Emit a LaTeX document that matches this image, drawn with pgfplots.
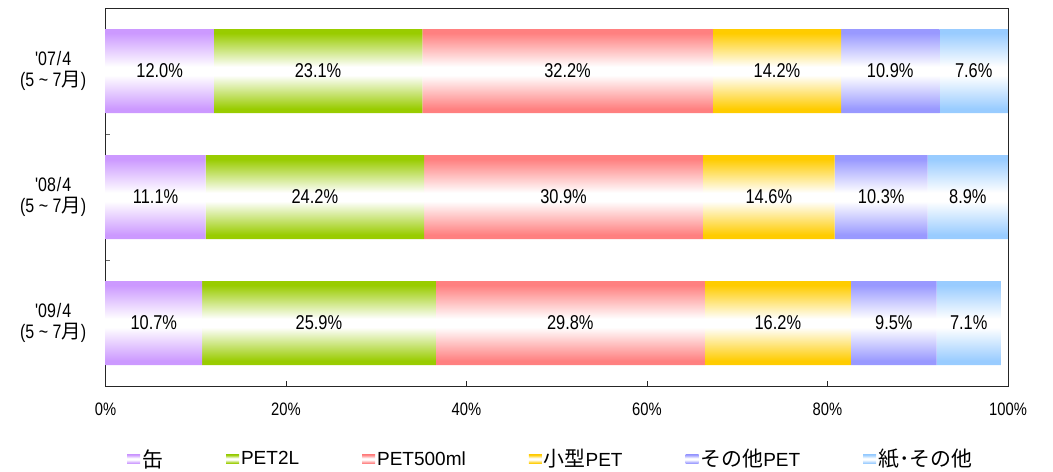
\documentclass[border=0pt]{standalone}
\usepackage{pgfplots}
\usepackage{pgfplotstable}
\pgfplotsset{compat=1.18}
\usepackage{fontspec}
\newfontfamily\lbl{Liberation Sans}[FakeStretch=0.82]
\newfontfamily\lgd{Liberation Sans}
\newfontfamily\jp{Noto Sans CJK JP}
\newfontfamily\jpl{Noto Sans CJK JP}[Scale=1.1]

\definecolor{cKan}{HTML}{CC99FF}
\definecolor{cPa}{HTML}{99CC00}
\definecolor{cPb}{HTML}{FF8080}
\definecolor{cSm}{HTML}{FFCC00}
\definecolor{cOt}{HTML}{9999FF}
\definecolor{cPp}{HTML}{99CCFF}

% One plot's three bars form one path (bbox = top of row 0 to bottom of row 2,
% 336bp mapped onto 25bp..75bp), so the shading holds one band per row:
% colour at the bar edges, white in the middle.  The "key" shading is a
% single band for the legend squares.
\newcommand\barshading[2]{%
  \pgfdeclareverticalshading{#1}{100bp}{color(0bp)=(#2); color(25bp)=(#2);
    color(25.625bp)=(#2); color(30.625bp)=(white); color(31.875bp)=(white);
    color(36.875bp)=(#2); color(43.75bp)=(#2); color(44.375bp)=(#2);
    color(49.375bp)=(white); color(50.625bp)=(white); color(55.625bp)=(#2);
    color(62.5bp)=(#2); color(63.125bp)=(#2); color(68.125bp)=(white);
    color(69.375bp)=(white); color(74.375bp)=(#2); color(100bp)=(#2)}%
  \pgfdeclareverticalshading{#1key}{100bp}{color(0bp)=(#2); color(27bp)=(#2);
    color(46bp)=(white); color(54bp)=(white); color(73bp)=(#2); color(100bp)=(#2)}}
\barshading{shKan}{cKan}
\barshading{shPa}{cPa}
\barshading{shPb}{cPb}
\barshading{shSm}{cSm}
\barshading{shOt}{cOt}
\barshading{shPp}{cPp}

% shares (%) per period: 0 = '07, 1 = '08, 2 = '09
\pgfplotstableread{
c v
0 12.0
1 11.1
2 10.7
}\tKan
\pgfplotstableread{
c v
0 23.1
1 24.2
2 25.9
}\tPa
\pgfplotstableread{
c v
0 32.2
1 30.9
2 29.8
}\tPb
\pgfplotstableread{
c v
0 14.2
1 14.6
2 16.2
}\tSm
\pgfplotstableread{
c v
0 10.9
1 10.3
2 9.5
}\tOt
\pgfplotstableread{
c v
0 7.6
1 8.9
2 7.1
}\tPp

\pgfplotsset{
  seg/.style={draw=none, shade, shading=#1,
    legend image code/.code={\path[shade, shading=#1key] (0bp,-4.5bp) rectangle (13bp,4.5bp);}},
}

\begin{document}
\begin{tikzpicture}
\useasboundingbox (-105.5bp,-86bp) rectangle (947.5bp,386bp);
\begin{axis}[
  scale only axis, width=902.5bp, height=378bp,
  xbar stacked, bar width=84bp,
  xmin=0, xmax=100, ymin=-0.5, ymax=2.5, y dir=reverse,
  axis line style={black!85, line width=1bp},
  xtick={0,20,40,60,80,100},
  xticklabels={0\%,20\%,40\%,60\%,80\%,100\%},
  ytick={0,1,2},
  yticklabels={{'07\kern1bp/\kern1bp4\\(5 \textasciitilde{} 7{\jp 月})},
               {'08\kern1bp/\kern1bp4\\(5 \textasciitilde{} 7{\jp 月})},
               {'09\kern1bp/\kern1bp4\\(5 \textasciitilde{} 7{\jp 月})}},
  minor ytick={0.5,1.5},
  tick align=inside, xtick pos=left, ytick pos=left,
  major tick length=5bp, minor tick length=5bp,
  major x tick style={black!85, line width=0.8bp},
  major y tick style={draw=none},
  minor y tick style={black!60, line width=1bp},
  xticklabel style={font=\lbl\fontsize{18bp}{20bp}\selectfont, anchor=base, yshift=-29.5bp},
  yticklabel style={font=\lbl\fontsize{19.5bp}{21.5bp}\selectfont,
    align=center, anchor=east, inner sep=0pt, xshift=-19bp},
  point meta=explicit,
  % stacked segments: the label already sits at the middle of its segment
  nodes near coords={\pgfmathprintnumber[fixed,fixed zerofill,precision=1,assume math mode=true]{\pgfplotspointmeta}\%},
  every node near coord/.append style={font=\lbl\fontsize{20bp}{22bp}\selectfont,
    black, anchor=center},
  legend columns=-1,
  legend style={at={(0.0238,-0.193)}, anchor=west, draw=none, fill=none,
    inner sep=0pt, font=\lgd\fontsize{19bp}{22bp}\selectfont,
    /tikz/every even column/.append style={column sep=61bp}},
]
\addplot[seg=shKan] table[x=v, y=c, meta=v] {\tKan};
\addlegendentry{{\jpl 缶}}
\addplot[seg=shPa] table[x=v, y=c, meta=v] {\tPa};
\addlegendentry{PET2L}
\addplot[seg=shPb] table[x=v, y=c, meta=v] {\tPb};
\addlegendentry{PET500ml}
\addplot[seg=shSm] table[x=v, y=c, meta=v] {\tSm};
\addlegendentry{{\jpl 小型}PET}
\addplot[seg=shOt] table[x=v, y=c, meta=v] {\tOt};
\addlegendentry{{\jpl その他}PET}
\addplot[seg=shPp] table[x=v, y=c, meta=v] {\tPp};
\addlegendentry{{\jpl 紙･その他}}
\end{axis}
\end{tikzpicture}
\end{document}
